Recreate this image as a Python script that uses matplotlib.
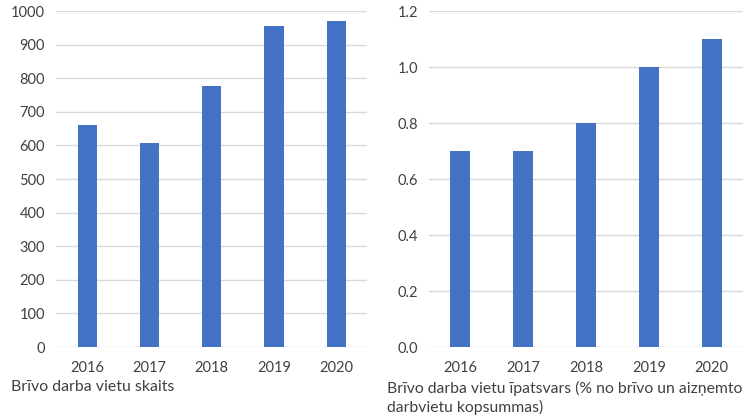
import matplotlib.pyplot as plt

years = ["2016", "2017", "2018", "2019", "2020"]
vacancies = [660, 606, 776, 955, 970]
vacancy_share = [0.7, 0.7, 0.8, 1.0, 1.1]

left_ticks = [0, 100, 200, 300, 400, 500, 600, 700, 800, 900, 1000]
right_ticks = [0.0, 0.2, 0.4, 0.6, 0.8, 1.0, 1.2]

plt.rcParams["font.family"] = ["Lato", "DejaVu Sans"]
text_color = "#404040"
bar_color = "#4472C4"

fig = plt.figure(figsize=(7.5, 4.2), dpi=100)
ax1 = fig.add_axes([0.0747, 0.1738, 0.415, 0.800])
ax2 = fig.add_axes([0.572, 0.1738, 0.4187, 0.800])


def style_axis(ax, ticks, fmt):
    ax.set_ylim(ticks[0], ticks[-1])
    ax.set_yticks(ticks)
    ax.set_yticklabels([fmt(t) for t in ticks])
    ax.set_xlim(-0.5, len(years) - 0.5)
    ax.grid(axis="y", color="#d9d9d9", linewidth=1)
    ax.set_axisbelow(True)
    for s in ax.spines.values():
        s.set_visible(False)
    ax.tick_params(length=0, labelsize=10.5, colors=text_color, pad=8)
    ax.tick_params(axis="x", pad=10)


ax1.bar(years, vacancies, width=0.31, color=bar_color)
style_axis(ax1, left_ticks, lambda t: f"{t:d}")

ax2.bar(years, vacancy_share, width=0.32, color=bar_color)
style_axis(ax2, right_ticks, lambda t: f"{t:.1f}")

fig.text(11 / 750, 1 - 387 / 420, "Brīvo darba vietu skaits",
         fontsize=11.4, color=text_color, va="center", ha="left")
fig.text(387 / 750, 1 - 398 / 420,
         "Brīvo darba vietu īpatsvars (% no brīvo un aizņemto\ndarbvietu kopsummas)",
         fontsize=11.3, color=text_color, va="center", ha="left", linespacing=1.4)

fig.savefig("out.png", dpi=100)
